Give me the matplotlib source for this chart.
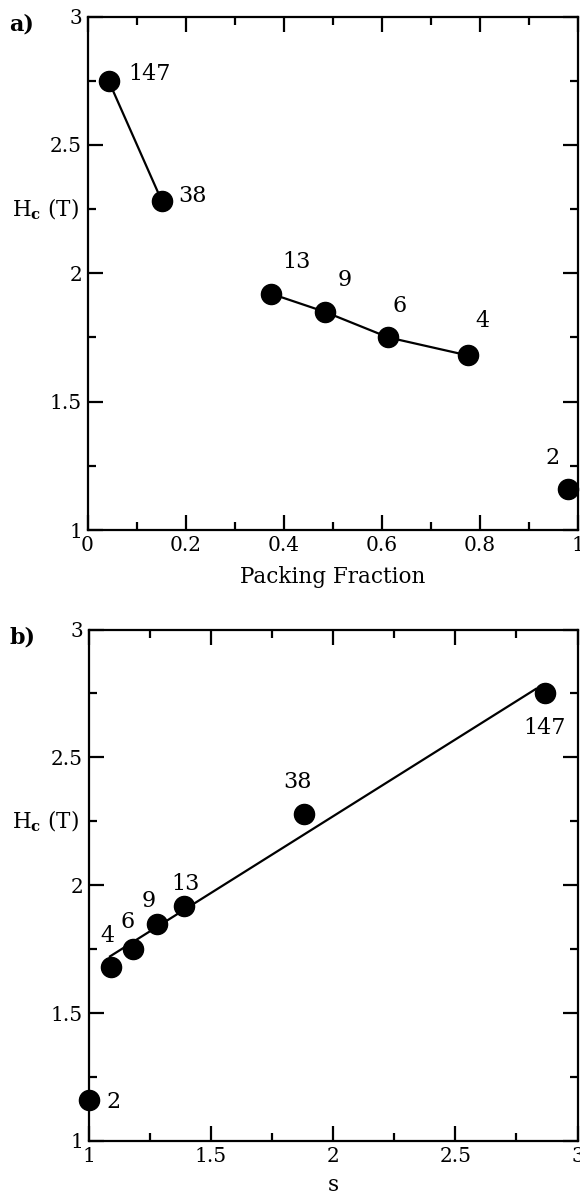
import numpy as np
import matplotlib
matplotlib.use("Agg")
import matplotlib.pyplot as plt
from matplotlib.ticker import MultipleLocator
from matplotlib.transforms import blended_transform_factory

plt.rcParams['font.family'] = ['DejaVu Serif']
plt.rcParams['mathtext.fontset'] = 'custom'
plt.rcParams['mathtext.rm'] = 'DejaVu Serif'
plt.rcParams['mathtext.bf'] = 'DejaVu Serif:bold'

# Cluster sizes (atoms per cluster) and measured coercive fields
cluster_size = ['147', '38', '13', '9', '6', '4', '2']
packing_fraction = [0.043, 0.152, 0.375, 0.484, 0.614, 0.776, 0.98]
coercive_field = [2.75, 2.28, 1.92, 1.85, 1.75, 1.68, 1.16]
s_param = [2.866, 1.88, 1.39, 1.28, 1.18, 1.094, 1.0]

# Connected groups in panel a (indices into the arrays above)
groups_a = [[0, 1], [2, 3, 4, 5]]
# Points used for the linear fit in panel b, and the span over which it is drawn
fit_idx = [0, 1, 2, 3, 4, 5]
fit_span = (1.088, 2.83)

# Label offsets in pixels (dx, dy) relative to each point
offsets_a = [(41, 7), (31, 5), (25, 32), (20, 32), (11, 31), (15, 34), (-15, 31)]
offsets_b = [(0, -35), (-6, 32), (2, 22), (-8, 23), (-5, 27), (-4, 31), (25, -2)]

W, H = 580, 1194
fig = plt.figure(figsize=(W / 100, H / 100), dpi=100)


def px_axes(left, top, right, bottom):
    return fig.add_axes([left / W, 1 - bottom / H, (right - left) / W, (bottom - top) / H])


ax_a = px_axes(87.5, 16.5, 577.5, 530)
ax_b = px_axes(88.5, 629.5, 577.5, 1141)

tick_fs = 14.5
label_fs = 16

for ax in (ax_a, ax_b):
    for sp in ax.spines.values():
        sp.set_linewidth(1.6)
    ax.tick_params(which='both', direction='in', top=True, right=True,
                   width=1.6, labelsize=tick_fs, pad=4)
    ax.tick_params(which='major', length=11)
    ax.tick_params(which='minor', length=6)
    ax.set_ylim(1, 3)
    ax.yaxis.set_major_locator(MultipleLocator(0.5))
    ax.yaxis.set_minor_locator(MultipleLocator(0.25))
    ax.set_yticks([1, 1.5, 2, 2.5, 3])
    ax.set_yticklabels(['1', '1.5', '2', '2.5', '3'])

# Panel a: coercive field vs packing fraction
ax_a.set_xlim(0, 1)
ax_a.xaxis.set_major_locator(MultipleLocator(0.2))
ax_a.xaxis.set_minor_locator(MultipleLocator(0.1))
ax_a.set_xticks([0, 0.2, 0.4, 0.6, 0.8, 1.0])
ax_a.set_xticklabels(['0', '0.2', '0.4', '0.6', '0.8', '1'])
for g in groups_a:
    ax_a.plot([packing_fraction[i] for i in g], [coercive_field[i] for i in g],
              color='black', lw=1.6, zorder=2)
ax_a.plot(packing_fraction, coercive_field, 'o', color='black', ms=14.5,
          clip_on=False, zorder=3)
for x, y, lab, (dx, dy) in zip(packing_fraction, coercive_field, cluster_size, offsets_a):
    ax_a.annotate(lab, (x, y), xytext=(dx, dy), textcoords='offset pixels',
                  ha='center', va='center', fontsize=label_fs)
ax_a.set_xlabel('Packing Fraction', fontsize=15.5, labelpad=8)

# Panel b: coercive field vs s with linear fit
ax_b.set_xlim(1, 3)
ax_b.xaxis.set_major_locator(MultipleLocator(0.5))
ax_b.xaxis.set_minor_locator(MultipleLocator(0.25))
ax_b.set_xticks([1, 1.5, 2, 2.5, 3])
ax_b.set_xticklabels(['1', '1.5', '2', '2.5', '3'])
sx = np.array([s_param[i] for i in fit_idx])
sy = np.array([coercive_field[i] for i in fit_idx])
slope, intercept = np.polyfit(sx, sy, 1)
xf = np.array(fit_span)
ax_b.plot(xf, intercept + slope * xf, color='black', lw=1.6, zorder=2)
ax_b.plot(s_param, coercive_field, 'o', color='black', ms=14.5,
          clip_on=False, zorder=3)
for x, y, lab, (dx, dy) in zip(s_param, coercive_field, cluster_size, offsets_b):
    ax_b.annotate(lab, (x, y), xytext=(dx, dy), textcoords='offset pixels',
                  ha='center', va='center', fontsize=label_fs)
ax_b.set_xlabel('s', fontsize=15.5, labelpad=6)

# Horizontal y-axis titles and panel letters
for ax, letter, ytop in ((ax_a, 'a)', 16.5), (ax_b, 'b)', 629.5)):
    tr = blended_transform_factory(fig.transFigure, ax.transData)
    ax.text(46 / W, 2.25, r'$\mathrm{H}_{\mathbf{c}}$ (T)', transform=tr,
            ha='center', va='center', fontsize=15.5)
    fig.text(22 / W, 1 - (ytop + 8) / H, letter, ha='center', va='center',
             fontsize=16, fontweight='bold')

fig.savefig('out.png', dpi=100)
